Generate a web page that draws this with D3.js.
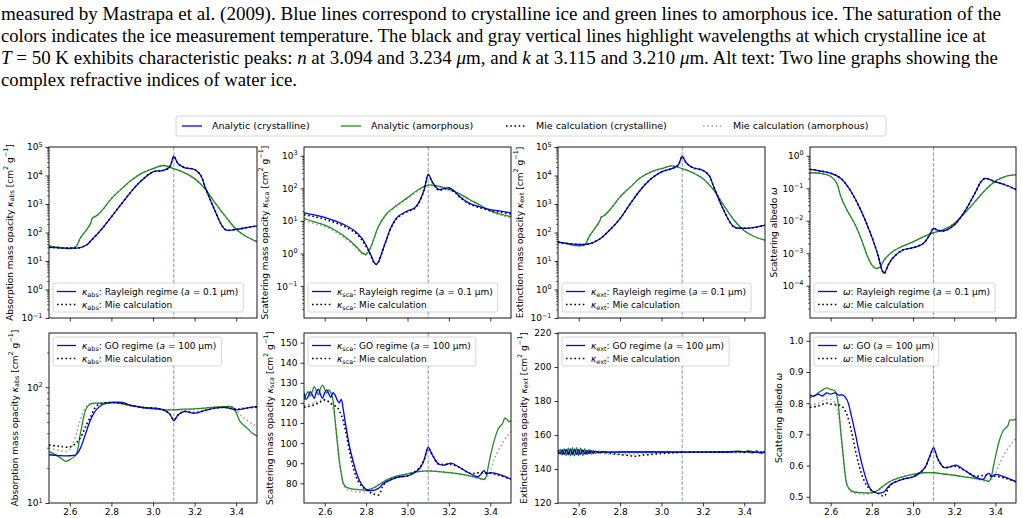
<!DOCTYPE html>
<html>
<head>
<meta charset="utf-8">
<script src="https://cdn.jsdelivr.net/npm/d3@7"></script>
<style>
  body { margin: 0; background: #fff; }
  svg { display: block; }
</style>
</head>
<body>
<svg id="fig" width="1023" height="518"></svg>
<script>
// wavelength ticks (micron) and the highlighted peak
const lamTicks = [2.6, 2.8, 3.0, 3.2, 3.4];
const peakLam = 3.1;

// y tick values
const absRayTicks = [1e-1, 1e0, 1e1, 1e2, 1e3, 1e4, 1e5];
const scaRayTicks = [1e-1, 1e0, 1e1, 1e2, 1e3];
const albRayTicks = [1e-4, 1e-3, 1e-2, 1e-1, 1e0];
const absGoTicks = [1e1, 1e2];
const scaGoTicks = [80, 90, 100, 110, 120, 130, 140, 150];
const extGoTicks = [120, 140, 160, 180, 200, 220];
const albGoTicks = [0.5, 0.6, 0.7, 0.8, 0.9, 1.0];

const legendNames = ["Analytic (crystalline)", "Analytic (amorphous)",
  "Mie calculation (crystalline)", "Mie calculation (amorphous)"];

// ---- Rayleigh regime (a = 0.1 um), [wavelength, value]
const absRayCr = [[2.5,30.2],[2.6,28.2],[2.65,29.5],[2.68,36.3],[2.7,50],[2.75,123],[2.8,355],[2.85,1047],[2.9,3020],[2.95,7244],[3.0,13490],[3.05,15140],[3.08,19950],[3.1,46770],[3.12,26300],[3.15,19050],[3.2,16220],[3.23,10000],[3.25,3981],[3.3,537],[3.33,182],[3.35,123],[3.4,129],[3.45,148],[3.5,170]];
const absRayAm = [[2.5,34],[2.55,30],[2.6,27],[2.63,32],[2.65,63],[2.68,123],[2.7,209],[2.71,339],[2.72,355],[2.75,537],[2.8,1549],[2.85,3467],[2.9,7244],[2.95,12300],[3.0,17380],[3.05,22390],[3.1,17380],[3.15,12590],[3.2,7762],[3.25,3467],[3.3,1047],[3.35,355],[3.4,129],[3.45,71],[3.5,48]];

const scaRayCr = [[2.5,17.8],[2.55,15.4],[2.6,12.9],[2.65,10],[2.7,7.4],[2.75,4.7],[2.78,2.9],[2.8,1.8],[2.82,1.0],[2.84,0.52],[2.85,0.47],[2.86,0.56],[2.88,1.26],[2.9,2.9],[2.92,6.3],[2.95,12.9],[3.0,20.4],[3.03,24],[3.05,33],[3.08,89],[3.1,269],[3.12,158],[3.15,93],[3.18,100],[3.2,105],[3.23,79],[3.25,57.5],[3.3,34.7],[3.35,26.9],[3.4,22.4],[3.45,20],[3.5,17.8]];
const scaRayAm = [[2.5,12.0],[2.55,9.3],[2.6,7.4],[2.65,5.2],[2.7,3.2],[2.75,1.7],[2.78,1.05],[2.8,0.95],[2.82,1.45],[2.84,3.2],[2.86,6.9],[2.9,17],[2.95,30.9],[3.0,52],[3.05,89],[3.1,126],[3.15,117],[3.2,93],[3.25,69],[3.3,45.7],[3.35,30.9],[3.4,20.4],[3.45,16.2],[3.5,13.5]];
const scaRayMieCr = [[2.5,15.5],[2.55,13.5],[2.6,11.3],[2.65,8.8],[2.7,6.6],[2.75,4.2],[2.78,2.6],[2.8,1.65],[2.82,0.95],[2.84,0.5],[2.85,0.46],[2.86,0.55],[2.88,1.22],[2.9,2.8],[2.92,6.0],[2.95,12.2],[3.0,19.5],[3.03,22.8],[3.05,31.5],[3.08,86],[3.1,262],[3.12,152],[3.15,89],[3.18,96],[3.2,100],[3.23,75],[3.25,55],[3.3,33],[3.35,25.5],[3.4,21],[3.45,18.5],[3.5,16.3]];
const scaRayMieAm = [[2.5,10.5],[2.55,8.2],[2.6,6.6],[2.65,4.7],[2.7,2.9],[2.75,1.55],[2.78,0.98],[2.8,0.9],[2.82,1.38],[2.84,3.0],[2.86,6.5],[2.9,16],[2.95,29],[3.0,49],[3.05,84],[3.1,120],[3.15,111],[3.2,88],[3.25,65],[3.3,43],[3.35,29],[3.4,19.2],[3.45,15],[3.5,12.3]];

const extRayCr = [[2.5,45],[2.6,38],[2.65,40],[2.7,58],[2.75,123],[2.8,309],[2.85,1047],[2.9,3236],[2.95,7762],[3.0,13490],[3.05,17380],[3.08,22900],[3.1,46770],[3.12,27540],[3.15,19050],[3.2,15140],[3.23,10000],[3.25,4467],[3.3,617],[3.35,158],[3.4,141],[3.45,151],[3.5,182]];
const extRayAm = [[2.5,48],[2.6,34],[2.63,37],[2.65,71],[2.7,240],[2.71,355],[2.72,380],[2.75,617],[2.8,1778],[2.85,3981],[2.9,8511],[2.95,13490],[3.0,17380],[3.05,21880],[3.1,17380],[3.15,12590],[3.2,7762],[3.25,3236],[3.3,912],[3.35,275],[3.4,115],[3.45,71],[3.5,54]];

const albRayCr = [[2.5,0.38],[2.55,0.34],[2.6,0.29],[2.65,0.20],[2.7,0.078],[2.75,0.019],[2.8,0.0032],[2.83,8.7e-4],[2.85,3.0e-4],[2.86,2.4e-4],[2.88,4.4e-4],[2.9,6.9e-4],[2.95,1.26e-3],[3.0,1.48e-3],[3.05,2.0e-3],[3.08,3.6e-3],[3.1,5.8e-3],[3.12,5.1e-3],[3.15,4.9e-3],[3.2,7.4e-3],[3.25,0.019],[3.3,0.069],[3.33,0.158],[3.35,0.20],[3.4,0.158],[3.45,0.126],[3.5,0.091]];
const albRayAm = [[2.5,0.30],[2.55,0.29],[2.6,0.234],[2.63,0.141],[2.65,0.055],[2.68,0.021],[2.7,0.0126],[2.72,0.0074],[2.75,0.0026],[2.78,7.8e-4],[2.8,4.4e-4],[2.82,3.4e-4],[2.84,3.8e-4],[2.86,6.2e-4],[2.9,1.12e-3],[2.95,1.66e-3],[3.0,2.24e-3],[3.05,3.2e-3],[3.1,4.3e-3],[3.15,5.4e-3],[3.2,8.3e-3],[3.25,0.017],[3.3,0.038],[3.35,0.087],[3.4,0.166],[3.45,0.234],[3.5,0.257]];

// ---- geometric optics regime (a = 100 um)
const absGoCr = [[2.5,26.1],[2.55,25.7],[2.6,25.6],[2.63,26.1],[2.65,29.5],[2.68,41.7],[2.7,52.5],[2.73,64.6],[2.76,71.3],[2.8,73.8],[2.85,73.8],[2.9,69.2],[2.95,66.8],[3.0,66.1],[3.05,63.8],[3.08,58.9],[3.1,51.3],[3.12,57.5],[3.15,61.7],[3.2,59.7],[3.25,63.1],[3.3,66.1],[3.35,66.8],[3.4,63.8],[3.45,66.1],[3.5,68.1]];
const absGoAm = [[2.5,27.9],[2.55,24.9],[2.58,22.9],[2.6,23.7],[2.63,26.1],[2.65,38.9],[2.68,66.1],[2.7,71.8],[2.75,72.8],[2.8,73.8],[2.85,71.8],[2.9,69.2],[2.95,66.8],[3.0,65],[3.05,63.8],[3.1,63.8],[3.15,64.6],[3.2,65],[3.25,66.1],[3.3,67.3],[3.35,68.1],[3.38,67.6],[3.4,60.3],[3.42,50.1],[3.45,44.7],[3.48,39.8],[3.5,38]];
const absGoMieCr = [[2.5,31.6],[2.55,30.9],[2.6,30.4],[2.63,32.9],[2.65,36.3],[2.68,47.3],[2.7,55.8],[2.73,69.2],[2.76,72.8],[2.8,73.8],[2.85,72.8],[2.9,69.2],[2.95,66.8],[3.0,66.1],[3.05,63.8],[3.08,58.9],[3.1,52.2],[3.12,57.5],[3.15,61.7],[3.2,60.3],[3.25,63.1],[3.3,66.1],[3.35,66.8],[3.4,64.6],[3.45,66.1],[3.5,67.3]];
const absGoMieAm = [[2.5,29.8],[2.55,28.4],[2.58,27.9],[2.6,28.8],[2.63,38.9],[2.65,52.2],[2.68,68.1],[2.7,71.8],[2.75,72.8],[2.8,73.8],[2.85,71.8],[2.9,69.2],[3.0,65],[3.1,63.8],[3.2,65],[3.3,67.3],[3.38,67.6],[3.4,63.8],[3.42,57.5],[3.45,52.2],[3.48,47.9],[3.5,46.5]];

const scaGoCr = [[2.5,125.1],[2.51,121.8],[2.52,123.1],[2.53,125.6],[2.54,124],[2.55,122.3],[2.56,125.6],[2.57,126.8],[2.58,124],[2.59,122.3],[2.6,125.1],[2.61,126.5],[2.62,124.5],[2.63,122.8],[2.64,125.1],[2.65,124],[2.66,121.5],[2.67,120.1],[2.68,121.8],[2.69,116.5],[2.7,109.9],[2.72,98.3],[2.74,90],[2.76,83.3],[2.78,79.2],[2.8,77],[2.83,76.4],[2.86,77.5],[2.88,79.5],[2.9,80.8],[2.95,83],[3.0,83.7],[3.03,85],[3.06,87.5],[3.08,91.6],[3.1,97.9],[3.12,94.1],[3.15,89.6],[3.18,89.1],[3.21,90],[3.25,88],[3.3,85],[3.34,83.3],[3.36,85.3],[3.37,86.3],[3.38,84.7],[3.4,85.3],[3.45,84.2],[3.5,82]];
const scaGoAm = [[2.5,121.5],[2.51,124],[2.52,125.6],[2.53,123.5],[2.54,125.6],[2.55,128.1],[2.56,126.1],[2.57,124],[2.58,127.3],[2.59,128.9],[2.6,126.8],[2.61,124.8],[2.62,126.5],[2.63,125.1],[2.64,121.5],[2.65,111.5],[2.66,101.6],[2.67,91.6],[2.68,85],[2.69,80],[2.7,78.4],[2.72,77.5],[2.75,77],[2.8,76.7],[2.83,77.5],[2.86,79.2],[2.9,81.7],[2.95,83.7],[3.0,84.7],[3.05,85.8],[3.1,86.2],[3.15,85.8],[3.2,85.3],[3.25,84.7],[3.3,83.7],[3.35,82.5],[3.37,82],[3.38,83.3],[3.39,88.3],[3.4,93.3],[3.42,101.6],[3.44,107.4],[3.46,109.9],[3.47,112.4],[3.48,111.9],[3.49,110.7],[3.5,111.2]];
const scaGoMieCr = [[2.5,117.8],[2.55,119],[2.58,120.6],[2.6,121.5],[2.62,120.6],[2.64,119],[2.66,117.8],[2.68,114],[2.7,106.6],[2.72,95.8],[2.74,87],[2.76,81.3],[2.78,78.4],[2.8,76.7],[2.83,75],[2.86,74.2],[2.88,78.4],[2.9,80.8],[2.95,83],[3.0,83.7],[3.05,87],[3.08,91.6],[3.1,97.4],[3.12,94.1],[3.15,89.6],[3.2,89.6],[3.25,88],[3.3,85],[3.35,85.3],[3.4,85],[3.45,83.7],[3.5,82]];
const scaGoMieAm = [[2.5,118.5],[2.55,120.1],[2.6,121.8],[2.62,120.6],[2.64,117.3],[2.65,111.5],[2.66,101.6],[2.68,85],[2.7,77.5],[2.75,75.9],[2.8,75.9],[2.83,76.7],[2.86,79.2],[2.9,81.7],[3.0,84.7],[3.1,86.2],[3.2,85.3],[3.3,83.7],[3.37,82],[3.4,85.8],[3.42,92.5],[3.45,98.3],[3.48,103.2],[3.5,105.7]];

const extGoCr = [[2.5,151],[2.51,148.8],[2.52,151.4],[2.53,148.5],[2.54,151.6],[2.55,148.4],[2.56,151.8],[2.57,148.3],[2.58,151.7],[2.59,148.4],[2.6,151.5],[2.61,148.6],[2.62,151.3],[2.63,148.8],[2.64,151],[2.65,149],[2.66,150.8],[2.67,149.3],[2.68,150.5],[2.7,149.6],[2.72,150.2],[2.75,149.9],[2.8,150],[3.0,150],[3.3,150],[3.4,150.2],[3.45,149.8],[3.5,150]];
const extGoAm = [[2.5,149],[2.51,151.5],[2.52,148.3],[2.53,152],[2.54,148],[2.55,152.3],[2.56,147.8],[2.57,152.5],[2.58,147.7],[2.59,152.5],[2.6,147.8],[2.61,152.3],[2.62,148],[2.63,152],[2.64,148.4],[2.65,151.5],[2.66,148.8],[2.67,151],[2.68,149.3],[2.7,150.5],[2.72,149.7],[2.75,150],[3.3,150],[3.38,150.5],[3.4,149.5],[3.42,151],[3.44,149.3],[3.46,150.8],[3.48,149],[3.5,150.3]];
const extGoMieCr = [[2.5,150],[2.52,149],[2.54,151],[2.56,149],[2.58,150.8],[2.6,149.2],[2.62,150.7],[2.64,149.3],[2.66,150.5],[2.68,149.5],[2.7,150],[2.75,149.3],[2.8,148.5],[2.85,147.8],[2.87,147.4],[2.9,148],[2.95,148.6],[3.0,149.1],[3.05,149.5],[3.1,149.8],[3.2,150],[3.5,150]];
const extGoMieAm = [[2.5,150.5],[2.55,149.5],[2.6,150.5],[2.65,149.5],[2.7,149.2],[2.75,148.8],[2.8,148.5],[2.85,148.8],[2.9,149.3],[3.0,149.7],[3.1,150],[3.4,150],[3.43,150.8],[3.46,149.5],[3.5,150.2]];

const albGoCr = [[2.5,0.826],[2.52,0.823],[2.54,0.829],[2.56,0.823],[2.58,0.833],[2.6,0.829],[2.62,0.833],[2.64,0.826],[2.66,0.826],[2.68,0.81],[2.7,0.762],[2.72,0.703],[2.74,0.639],[2.76,0.585],[2.78,0.543],[2.8,0.519],[2.83,0.511],[2.86,0.516],[2.88,0.532],[2.9,0.543],[2.95,0.556],[3.0,0.564],[3.03,0.575],[3.06,0.596],[3.08,0.628],[3.1,0.657],[3.12,0.622],[3.15,0.594],[3.18,0.596],[3.21,0.601],[3.25,0.585],[3.3,0.564],[3.34,0.556],[3.36,0.573],[3.37,0.575],[3.38,0.564],[3.4,0.572],[3.45,0.562],[3.5,0.548]];
const albGoAm = [[2.5,0.818],[2.52,0.823],[2.54,0.833],[2.56,0.842],[2.58,0.849],[2.6,0.844],[2.62,0.84],[2.63,0.826],[2.64,0.778],[2.65,0.703],[2.66,0.639],[2.67,0.575],[2.68,0.537],[2.7,0.519],[2.75,0.513],[2.8,0.513],[2.83,0.521],[2.86,0.537],[2.9,0.553],[2.95,0.564],[3.0,0.572],[3.05,0.577],[3.1,0.577],[3.15,0.573],[3.2,0.569],[3.25,0.564],[3.3,0.559],[3.35,0.553],[3.37,0.55],[3.38,0.564],[3.39,0.596],[3.4,0.628],[3.42,0.682],[3.44,0.714],[3.46,0.727],[3.47,0.746],[3.48,0.746],[3.5,0.748]];
const albGoMieCr = [[2.5,0.786],[2.54,0.791],[2.58,0.8],[2.6,0.797],[2.64,0.794],[2.66,0.786],[2.68,0.762],[2.7,0.714],[2.72,0.65],[2.74,0.596],[2.76,0.556],[2.78,0.532],[2.8,0.519],[2.83,0.511],[2.86,0.502],[2.88,0.527],[2.9,0.543],[2.95,0.556],[3.0,0.564],[3.05,0.587],[3.08,0.626],[3.1,0.655],[3.12,0.622],[3.15,0.594],[3.2,0.598],[3.25,0.585],[3.3,0.566],[3.35,0.569],[3.4,0.566],[3.45,0.559],[3.5,0.548]];
const albGoMieAm = [[2.5,0.794],[2.54,0.8],[2.58,0.812],[2.6,0.812],[2.62,0.801],[2.64,0.756],[2.66,0.639],[2.68,0.543],[2.7,0.516],[2.75,0.509],[2.8,0.511],[2.83,0.521],[2.86,0.537],[2.9,0.553],[3.0,0.572],[3.1,0.577],[3.2,0.569],[3.3,0.559],[3.37,0.55],[3.4,0.575],[3.42,0.607],[3.45,0.644],[3.48,0.671],[3.5,0.687]];

// ---------------------------------------------------------------
const svg = d3.select("#fig");
const FONT = "DejaVu Sans";
const BLUE = "#0000ff", GREEN = "#228b22", GRAY = "#a3a3a3";

// layout of the 2 x 4 grid
const colX = [49, 304, 558, 810];
const colW = [208, 207, 207, 206];
const rowY = [147, 333];
const rowH = [171, 170];
const ylabelX = [[10, 265, 520, 774], [15, 270, 524, 779]];

// text with italic / sub / superscript pieces
function rich(sel, parts, fs) {
  let shift = 0;
  parts.forEach(p => {
    const sp = sel.append("tspan").text(p.t);
    let target = 0;
    if (p.s === "sub") { target = fs * 0.25; sp.attr("font-size", fs * 0.72); }
    if (p.s === "sup") { target = -fs * 0.42; sp.attr("font-size", fs * 0.72); }
    if (p.s === "i") sp.attr("font-style", "italic");
    if (target !== shift) { sp.attr("dy", target - shift); shift = target; }
  });
}

const kAbs = [{t: "κ", s: "i"}, {t: "abs", s: "sub"}];
const kSca = [{t: "κ", s: "i"}, {t: "sca", s: "sub"}];
const kExt = [{t: "κ", s: "i"}, {t: "ext", s: "sub"}];
const om = [{t: "ω", s: "i"}];
const unit = [{t: " [cm"}, {t: "2", s: "sup"}, {t: " g"}, {t: "−1", s: "sup"}, {t: "]"}];

function lbl(sym, regime, size) {
  return sym.concat([{t: ": " + regime + " ("}, {t: "a", s: "i"}, {t: " = " + size + " μm)"}]);
}

const panels = [
  {row: 0, col: 0, log: true, yDomain: [0.1, 1e5], yTicks: absRayTicks, cr: absRayCr, am: absRayAm, mieCr: absRayCr, mieAm: absRayAm,
   ylabel: [{t: "Absorption mass opacity "}].concat(kAbs, unit), sym: kAbs, regime: "Rayleigh regime", size: "0.1"},
  {row: 0, col: 1, log: true, yDomain: [0.0105, 1862], yTicks: scaRayTicks, cr: scaRayCr, am: scaRayAm, mieCr: scaRayMieCr, mieAm: scaRayMieAm,
   ylabel: [{t: "Scattering mass opacity "}].concat(kSca, unit), sym: kSca, regime: "Rayleigh regime", size: "0.1"},
  {row: 0, col: 2, log: true, yDomain: [0.1, 1e5], yTicks: absRayTicks, cr: extRayCr, am: extRayAm, mieCr: extRayCr, mieAm: extRayAm,
   ylabel: [{t: "Extinction mass opacity "}].concat(kExt, unit), sym: kExt, regime: "Rayleigh regime", size: "0.1"},
  {row: 0, col: 3, log: true, yDomain: [1.02e-5, 1.86], yTicks: albRayTicks, cr: albRayCr, am: albRayAm, mieCr: albRayCr, mieAm: albRayAm,
   ylabel: [{t: "Scattering albedo "}].concat(om), sym: om, regime: "Rayleigh regime", size: "0.1"},
  {row: 1, col: 0, log: true, yDomain: [10, 294], yTicks: absGoTicks, cr: absGoCr, am: absGoAm, mieCr: absGoMieCr, mieAm: absGoMieAm,
   ylabel: [{t: "Absorption mass opacity "}].concat(kAbs, unit), sym: kAbs, regime: "GO regime", size: "100"},
  {row: 1, col: 1, log: false, yDomain: [70.2, 154.8], yTicks: scaGoTicks, fmt: d3.format("d"), cr: scaGoCr, am: scaGoAm, mieCr: scaGoMieCr, mieAm: scaGoMieAm,
   ylabel: [{t: "Scattering mass opacity "}].concat(kSca, unit), sym: kSca, regime: "GO regime", size: "100"},
  {row: 1, col: 2, log: false, yDomain: [120, 220], yTicks: extGoTicks, fmt: d3.format("d"), cr: extGoCr, am: extGoAm, mieCr: extGoMieCr, mieAm: extGoMieAm,
   ylabel: [{t: "Extinction mass opacity "}].concat(kExt, unit), sym: kExt, regime: "GO regime", size: "100"},
  {row: 1, col: 3, log: false, yDomain: [0.48, 1.025], yTicks: albGoTicks, fmt: d3.format(".1f"), cr: albGoCr, am: albGoAm, mieCr: albGoMieCr, mieAm: albGoMieAm,
   ylabel: [{t: "Scattering albedo "}].concat(om), sym: om, regime: "GO", size: "100"}
];

function drawPanel(p) {
  const w = colW[p.col], h = rowH[p.row];
  const g = svg.append("g").attr("transform", `translate(${colX[p.col]},${rowY[p.row]})`);
  const x = d3.scaleLinear().domain([2.5, 3.5]).range([0, w]);
  const y = (p.log ? d3.scaleLog() : d3.scaleLinear()).domain(p.yDomain).range([h, 0]);

  const cid = "clip" + p.row + p.col;
  g.append("clipPath").attr("id", cid).append("rect").attr("width", w).attr("height", h);
  const plot = g.append("g").attr("clip-path", `url(#${cid})`);

  plot.append("line")
    .attr("x1", x(peakLam)).attr("x2", x(peakLam))
    .attr("y1", 0).attr("y2", h)
    .attr("stroke", "#8796ad").attr("stroke-width", 1)
    .attr("stroke-dasharray", "3.7,1.6");

  const line = d3.line()
    .x(d => x(d[0]))
    .y(d => y(d[1]))
    .curve(d3.curveCatmullRom.alpha(0.5));

  const series = [
    {d: p.mieAm, c: GRAY, lw: 1.6, dash: "1.6,2.6"},
    {d: p.am, c: GREEN, lw: 1.3},
    {d: p.cr, c: BLUE, lw: 1.3},
    {d: p.mieCr, c: "#000", lw: 1.6, dash: "1.6,2.6"}
  ];
  series.forEach(s => {
    plot.append("path")
      .attr("d", line(s.d))
      .attr("fill", "none")
      .attr("stroke", s.c)
      .attr("stroke-width", s.lw)
      .attr("stroke-dasharray", s.dash || null);
  });

  // x axis
  const xAxis = d3.axisBottom(x).tickValues(lamTicks).tickSizeInner(3.5).tickSizeOuter(0).tickPadding(2.5)
    .tickFormat(p.row === 1 ? d3.format(".1f") : () => "");
  const gx = g.append("g").attr("transform", `translate(0,${h})`).call(xAxis)
    .attr("font-family", FONT).attr("font-size", 9);
  gx.select(".domain").remove();
  gx.selectAll("line").attr("stroke-width", 0.8);

  // y axis
  if (p.log) {
    const minor = [];
    const lo = Math.floor(Math.log10(p.yDomain[0])), hi = Math.ceil(Math.log10(p.yDomain[1]));
    for (let k = lo; k <= hi; k++) {
      for (let j = 2; j <= 9; j++) {
        const v = j * Math.pow(10, k);
        if (v >= p.yDomain[0] && v <= p.yDomain[1]) minor.push(v);
      }
    }
    const gm = g.append("g").call(d3.axisLeft(y).tickValues(minor).tickSizeInner(2).tickSizeOuter(0).tickFormat(() => ""));
    gm.select(".domain").remove();
    gm.selectAll("line").attr("stroke-width", 0.6);
  }
  const yAxis = d3.axisLeft(y).tickValues(p.yTicks).tickSizeInner(3.5).tickSizeOuter(0).tickPadding(3)
    .tickFormat(p.log ? () => "" : p.fmt);
  const gy = g.append("g").call(yAxis).attr("font-family", FONT).attr("font-size", 9);
  gy.select(".domain").remove();
  gy.selectAll("line").attr("stroke-width", 0.8);
  if (p.log) {
    gy.selectAll(".tick text").each(function(d) {
      const e = Math.round(Math.log10(d));
      rich(d3.select(this), [{t: "10"}, {t: String(e).replace("-", "−"), s: "sup"}], 9);
    });
  }

  // frame
  g.append("rect").attr("width", w).attr("height", h)
    .attr("fill", "none").attr("stroke", "#000").attr("stroke-width", 0.9);

  // y label
  const yl = g.append("text")
    .attr("transform", `translate(${ylabelX[p.row][p.col] - colX[p.col]},${h / 2}) rotate(-90)`)
    .attr("text-anchor", "middle").attr("dominant-baseline", "central")
    .attr("font-family", FONT).attr("font-size", 9).attr("fill", "#000");
  rich(yl, p.ylabel, 9);

  // legend
  const ly = p.row === 0 ? h - 35 : 4;
  const lg = g.append("g").attr("transform", `translate(4,${ly})`);
  const box = lg.append("rect").attr("rx", 2).attr("height", 29)
    .attr("fill", "#fff").attr("fill-opacity", 0.8).attr("stroke", "#cccccc").attr("stroke-width", 0.8);
  const rows = [
    {yy: 8.5, c: BLUE, lw: 1.3, dash: null, parts: lbl(p.sym, p.regime, p.size)},
    {yy: 21.5, c: "#000", lw: 1.6, dash: "1.6,2.6", parts: p.sym.concat([{t: ": Mie calculation"}])}
  ];
  let maxW = 0;
  rows.forEach(r => {
    lg.append("line").attr("x1", 4).attr("x2", 23).attr("y1", r.yy).attr("y2", r.yy)
      .attr("stroke", r.c).attr("stroke-width", r.lw).attr("stroke-dasharray", r.dash);
    const t = lg.append("text").attr("x", 29).attr("y", r.yy).attr("dy", "0.35em")
      .attr("font-family", FONT).attr("font-size", 9).attr("fill", "#000");
    rich(t, r.parts, 9);
    maxW = Math.max(maxW, t.node().getComputedTextLength());
  });
  box.attr("width", maxW + 34);
}

panels.forEach(drawPanel);

// ---- figure legend
const topLeg = svg.append("g");
topLeg.append("rect").attr("x", 176).attr("y", 116).attr("width", 710).attr("height", 20).attr("rx", 2)
  .attr("fill", "#fff").attr("stroke", "#cccccc").attr("stroke-width", 0.8);
const legStyle = [
  {c: BLUE, lw: 1.3, dash: null}, {c: GREEN, lw: 1.3, dash: null},
  {c: "#000", lw: 1.6, dash: "1.6,2.6"}, {c: GRAY, lw: 1.6, dash: "1.6,2.6"}
];
const legX = [212, 371, 536, 733];
legendNames.forEach((name, i) => {
  topLeg.append("line").attr("x1", legX[i] - 30).attr("x2", legX[i] - 10).attr("y1", 126).attr("y2", 126)
    .attr("stroke", legStyle[i].c).attr("stroke-width", legStyle[i].lw).attr("stroke-dasharray", legStyle[i].dash);
  topLeg.append("text").attr("x", legX[i]).attr("y", 126).attr("dy", "0.35em")
    .attr("font-family", FONT).attr("font-size", 9.5).attr("fill", "#000").text(name);
});

// ---- caption text above the figure
const captionLines = [
  [{t: "measured by Mastrapa et al. (2009). Blue lines correspond to crystalline ice and green lines to amorphous ice. The saturation of the"}],
  [{t: "colors indicates the ice measurement temperature. The black and gray vertical lines highlight wavelengths at which crystalline ice at"}],
  [{t: "T", s: "i"}, {t: " = 50 K exhibits characteristic peaks: "}, {t: "n", s: "i"}, {t: " at 3.094 and 3.234 "}, {t: "μ", s: "i"},
   {t: "m, and "}, {t: "k", s: "i"}, {t: " at 3.115 and 3.210 "}, {t: "μ", s: "i"}, {t: "m. Alt text: Two line graphs showing the"}],
  [{t: "complex refractive indices of water ice."}]
];
const captionWidths = [1000, 985, 997, 296];
captionLines.forEach((parts, i) => {
  const t = svg.append("text").attr("x", 1).attr("y", 20 + i * 22)
    .attr("font-family", "Liberation Serif").attr("font-size", 19).attr("fill", "#000")
    .attr("textLength", captionWidths[i]).attr("lengthAdjust", "spacingAndGlyphs");
  rich(t, parts, 19);
});
</script>
</body>
</html>
